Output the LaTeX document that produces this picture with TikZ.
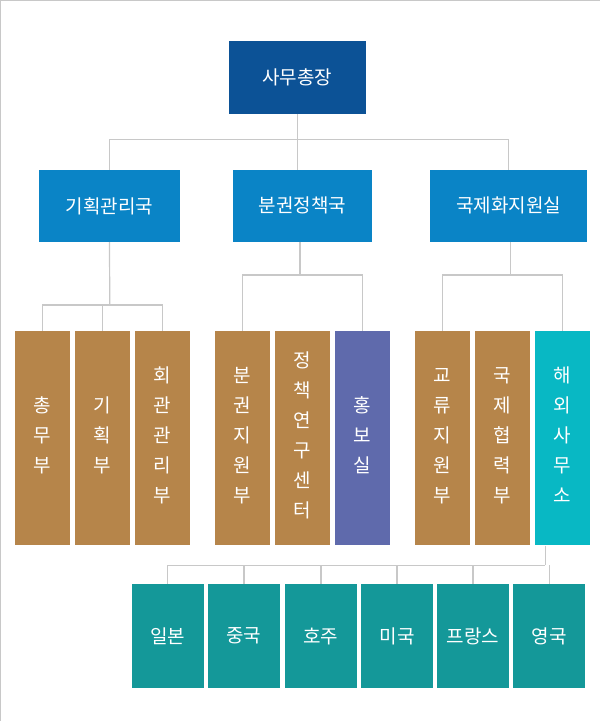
\documentclass[tikz,border=0pt]{standalone}
\usepackage{fontspec}
\setmainfont{Noto Sans CJK KR}
\definecolor{chief}{RGB}{12,82,150}
\definecolor{bureau}{RGB}{10,132,198}
\definecolor{brownbox}{RGB}{182,133,74}
\definecolor{violetbox}{RGB}{95,106,172}
\definecolor{cyanbox}{RGB}{8,184,196}
\definecolor{tealbox}{RGB}{20,152,153}
\definecolor{linegray}{RGB}{200,200,200}
\begin{document}
\begin{tikzpicture}[x=1pt, y=-1pt,
    box/.style={inner sep=0pt, text=white, font=\fontsize{19}{30}\selectfont},
    chiefbox/.style={box, fill=chief, minimum width=137pt, minimum height=73pt},
    bureaubox/.style={box, fill=bureau, minimum height=72pt},
    unitbox/.style={box, fill=brownbox, minimum width=55pt, minimum height=214pt, anchor=north, align=center, text depth=0pt},
    citybox/.style={box, fill=tealbox, minimum width=72pt, minimum height=104pt},
    link/.style={draw=linegray, line width=1.2pt}]

    \draw[linegray, fill=white] (0.5,0.5) rectangle (599.5,720.5);

    \node[chiefbox] (chief) at (297.5, 77.5) {사무총장};

    \node[bureaubox, minimum width=141pt] (plan) at (109.5, 206) {기획관리국};
    \node[bureaubox, minimum width=139pt] (policy) at (302.5, 206) {분권정책국};
    \node[bureaubox, minimum width=157pt] (intl) at (508.5, 206) {국제화지원실};

    \node[unitbox] (general) at (42.5, 331) {\\[-22pt]총\\무\\부};
    \node[unitbox] (planning) at (102.5, 331) {\\[-22pt]기\\획\\부};
    \node[unitbox] (hall) at (162.5, 331) {\\[-22pt]회\\관\\관\\리\\부};
    \node[unitbox] (support) at (242.5, 331) {\\[-22pt]분\\권\\지\\원\\부};
    \node[unitbox] (research) at (302.5, 331) {\\[-22pt]정\\책\\연\\구\\센\\터};
    \node[unitbox, fill=violetbox] (pr) at (362.5, 331) {\\[-22pt]홍\\보\\실};
    \node[unitbox] (exchange) at (442.5, 331) {\\[-22pt]교\\류\\지\\원\\부};
    \node[unitbox] (coop) at (502.5, 331) {\\[-22pt]국\\제\\협\\력\\부};
    \node[unitbox, fill=cyanbox] (overseas) at (562.5, 331) {\\[-22pt]해\\외\\사\\무\\소};

    \node[citybox] (japan) at (168, 636) {일본};
    \node[citybox] (china) at (244, 636) {중국};
    \node[citybox] (australia) at (321, 636) {호주};
    \node[citybox] (usa) at (397, 636) {미국};
    \node[citybox] (france) at (473, 636) {프랑스};
    \node[citybox] (uk) at (549, 636) {영국};

    \coordinate (top) at (297.5, 140);
    \coordinate (planbar) at (110, 305);
    \coordinate (policybar) at (300, 275);
    \coordinate (intlbar) at (510, 275);
    \coordinate (citybar) at (545, 565);

    \begin{scope}[on background layer/.style={}]
    \draw[link] (chief) -- (top);
    \draw[link] (top) -| (plan);
    \draw[link] (top) -| (intl);
    \draw[link] (top) -- (policy.north -| top);

    \draw[link] (plan) -- (planbar);
    \draw[link] (planbar) -| (general);
    \draw[link] (planbar) -| (hall);
    \draw[link] (planbar -| planning) -- (planning);

    \draw[link] (policy.south -| policybar) -- (policybar);
    \draw[link] (policybar) -| (support);
    \draw[link] (policybar) -| (pr);

    \draw[link] (intl.south -| intlbar) -- (intlbar);
    \draw[link] (intlbar) -| (exchange);
    \draw[link] (intlbar) -| (overseas);

    \draw[link] (overseas.south -| citybar) -- (citybar);
    \draw[link] (citybar) -| (japan);
    \foreach \city in {china, australia, usa, france, uk}
        \draw[link] (citybar -| \city) -- (\city);
    \end{scope}
\end{tikzpicture}
\end{document}
